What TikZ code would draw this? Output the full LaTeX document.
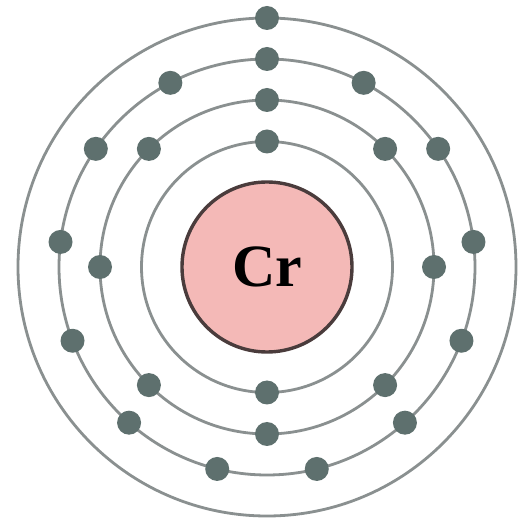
\documentclass[tikz,border=0pt]{standalone}
\usepackage{fontspec}
\setmainfont{Liberation Serif}
\usetikzlibrary{calc}
\definecolor{ringgray}{HTML}{8A9090}
\definecolor{elec}{HTML}{5E706E}
\definecolor{nucfill}{HTML}{F4B9B7}
\definecolor{nucline}{HTML}{4A3C3C}
\tikzset{
  shell/.style={draw=ringgray, line width=2.8pt, fill=none},
  electron/.style={circle, fill=elec, draw=none, minimum size=24pt, inner sep=0pt},
  nucleus/.style={circle, fill=nucfill, draw=nucline, line width=3.4pt, minimum size=170pt, inner sep=0pt,
    font=\fontsize{60}{60}\selectfont\bfseries}
}
\begin{document}
\begin{tikzpicture}[x=1pt,y=1pt]
\useasboundingbox (0,0) rectangle (520,528);
\fill[white] (0,0) rectangle (520,528);
\coordinate (c) at (267,261);
\draw[shell] (c) circle (125.5);
\draw[shell] (c) circle (167);
\draw[shell] (c) circle (208);
\draw[shell] (c) circle (249);
\node[nucleus] (nuc) at (c) {Cr};
% shell 1
\foreach \i in {0,1} {
  \node[electron] (e1-\i) at ($(c)+({90+180*\i}:125.5)$) {};
}
% shell 2
\foreach \i in {0,...,7} {
  \node[electron] (e2-\i) at ($(c)+({90+45*\i}:167)$) {};
}
% shell 3
\foreach \i in {0,...,12} {
  \node[electron] (e3-\i) at ($(c)+({90+360/13*\i}:208)$) {};
}
% shell 4
\node[electron] (e4-0) at ($(c)+(90:249)$) {};
\end{tikzpicture}
\end{document}
